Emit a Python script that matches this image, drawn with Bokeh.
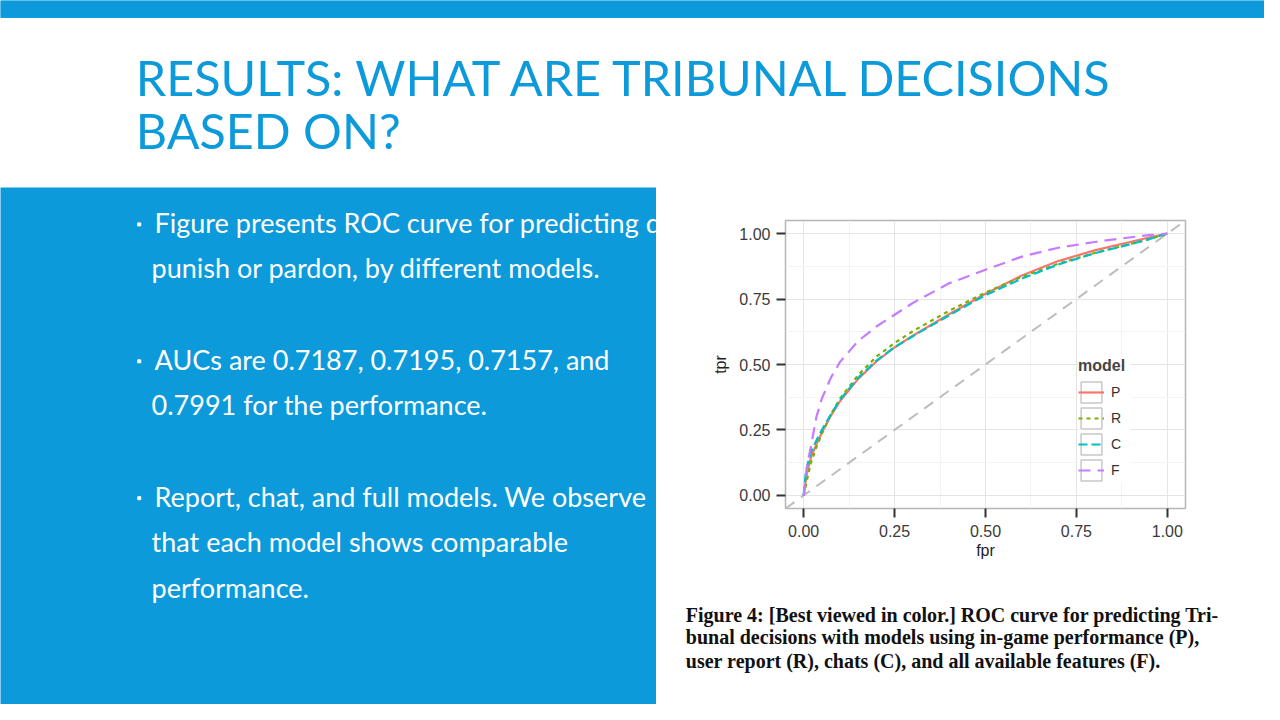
from bokeh.plotting import figure
from bokeh.models import (Range1d, Slope, Legend, LegendItem, FixedTicker,
                          NumeralTickFormatter)
from bokeh.layouts import column, row
from bokeh.embed import file_html
from bokeh.resources import INLINE
from bokeh.core.properties import value

# ---------------- data ----------------
fpr = [0.0, 0.005, 0.01, 0.02, 0.035, 0.05, 0.075, 0.1, 0.15, 0.2, 0.25,
       0.3, 0.4, 0.5, 0.6, 0.7, 0.8, 0.9, 0.95, 1.0]
tpr_P = [0.0, 0.05, 0.09, 0.145, 0.195, 0.24, 0.305, 0.36, 0.445, 0.512, 0.565,
         0.61, 0.692, 0.77, 0.84, 0.895, 0.936, 0.969, 0.985, 1.0]
tpr_R = [0.0, 0.03, 0.065, 0.125, 0.185, 0.235, 0.31, 0.37, 0.46, 0.53, 0.582,
         0.627, 0.705, 0.775, 0.835, 0.885, 0.926, 0.961, 0.979, 1.0]
tpr_C = [0.0, 0.075, 0.115, 0.165, 0.21, 0.25, 0.31, 0.365, 0.45, 0.515, 0.566,
         0.608, 0.688, 0.765, 0.828, 0.882, 0.925, 0.96, 0.979, 1.0]
tpr_F = [0.0, 0.07, 0.12, 0.187, 0.30, 0.37, 0.45, 0.51, 0.59, 0.645, 0.69,
         0.735, 0.81, 0.862, 0.912, 0.946, 0.968, 0.986, 0.994, 1.0]

models = ["P", "R", "C", "F"]
series = [tpr_P, tpr_R, tpr_C, tpr_F]
colors = ["#F8766D", "#7CAE00", "#00BFC4", "#C77CFF"]
dashes = ["solid", "4 4", "9 4", "12 7"]
major_ticks = [0.0, 0.25, 0.5, 0.75, 1.0]
minor_ticks = [0.125, 0.375, 0.625, 0.875]

title_lines = ["RESULTS: WHAT ARE TRIBUNAL DECISIONS", "BASED ON?"]
bullet_lines = [
    ["Figure presents ROC curve for predicting decisions to",
     "punish or pardon, by different models."],
    ["AUCs are 0.7187, 0.7195, 0.7157, and",
     "0.7991 for the performance."],
    ["Report, chat, and full models. We observe",
     "that each model shows comparable",
     "performance."],
]
caption_lines = [
    "Figure 4: [Best viewed in color.] ROC curve for predicting Tri-",
    "bunal decisions with models using in-game performance (P),",
    "user report (R), chats (C), and all available features (F).",
]

# ---------------- styling / layout ----------------
BLUE = "#0C9ADB"
BODY_FONT = "Lato"
W, H = 1264, 704            # drawn size
RW, RH = 1280, 720          # slide coordinates
SX, SY = W / RW, H / RH


def blank(width, height, xr, yr, bg="white"):
    f = figure(width=width, height=height, x_range=Range1d(*xr),
               y_range=Range1d(*yr), x_axis_type=None, y_axis_type=None,
               output_backend="svg", toolbar_location=None, min_border=0,
               title=None)
    f.outline_line_color = None
    f.background_fill_color = bg
    f.border_fill_color = bg
    f.grid.visible = False
    return f


TOP_H = 187
LEFT_W = 656
CHART_H = 400
BOT_H = H - TOP_H
y_split = TOP_H / SY
x_split = LEFT_W / SX
y_cap = (TOP_H + CHART_H) / SY

# ---- title band ----
top = blank(W, TOP_H, (0, RW), (y_split, 0))
top.quad(left=[0], right=[RW], top=[0], bottom=[17.3], color=BLUE)
title_fs = 48.5
top.text(x=[137, 137], y=[96 - 0.37 * title_fs, 150 - 0.37 * title_fs],
         text=title_lines, text_color=BLUE, text_font=value(BODY_FONT),
         text_font_size=f"{title_fs}px", text_baseline="middle")

# ---- blue text panel ----
left = blank(LEFT_W, BOT_H, (0, x_split), (RH, y_split), bg=BLUE)
body_fs = 27
baselines = [[237, 283], [377, 423], [517, 563, 610]]
bx, by, tx, ty = [], [], [], []
for grp, bls in zip(bullet_lines, baselines):
    bx.append(140.5)
    by.append(bls[0] - 8)
    for i, b in enumerate(bls):
        tx.append(156 if i == 0 else 153)
        ty.append(b - 0.37 * body_fs)
left.scatter(bx, by, marker="square", size=3, color="white")
left.text(x=tx, y=ty, text=[l for g in bullet_lines for l in g],
          text_color="white", text_font=value(BODY_FONT),
          text_font_size=f"{body_fs}px", text_baseline="middle")

# ---- ROC chart ----
p = figure(width=W - LEFT_W, height=CHART_H, x_range=Range1d(-0.05, 1.05),
           y_range=Range1d(-0.05, 1.05), output_backend="svg",
           toolbar_location=None, min_border_left=129, min_border_right=79,
           min_border_top=33, min_border_bottom=79)
p.background_fill_color = "white"
p.border_fill_color = "white"
p.outline_line_color = "#b5b5b5"
p.outline_line_width = 1.5

for ax in (p.xaxis[0], p.yaxis[0]):
    ax.ticker = FixedTicker(ticks=major_ticks, minor_ticks=minor_ticks)
    ax.formatter = NumeralTickFormatter(format="0.00")
    ax.axis_line_color = None
    ax.major_tick_line_color = "#333333"
    ax.major_tick_line_width = 2
    ax.major_tick_out = 9
    ax.major_tick_in = 0
    ax.minor_tick_line_color = None
    ax.major_label_text_font = "Liberation Sans"
    ax.major_label_text_font_size = "16px"
    ax.major_label_text_color = "#3a3a3a"
    ax.axis_label_text_font = "Liberation Sans"
    ax.axis_label_text_font_size = "16px"
    ax.axis_label_text_font_style = "normal"
    ax.axis_label_text_color = "#222222"

p.xaxis.axis_label = "fpr"
p.yaxis.axis_label = "tpr"
p.xaxis.major_label_standoff = 7
p.yaxis.major_label_standoff = 6
p.xaxis.axis_label_standoff = 2
p.yaxis.axis_label_standoff = 7

p.grid.grid_line_color = "#e4e4e4"
p.grid.grid_line_width = 1
p.grid.minor_grid_line_color = "#f3f3f3"
p.grid.minor_grid_line_width = 1

diag = Slope(gradient=1, y_intercept=0, line_color="#bdbdbd", line_width=2,
             line_dash="11 8", level="underlay")
p.add_layout(diag)

nan = float("nan")
key_box = p.rect(x=[nan], y=[nan], width=1, height=1, fill_color="white",
                 line_color="#c8c8c8", line_width=1.5)
items = []
for m, s, c, d in zip(models, series, colors, dashes):
    r = p.line(fpr, s, line_color=c, line_width=2.2, line_dash=d)
    items.append(LegendItem(label=m, renderers=[key_box, r]))

legend = Legend(items=items, location=(293, 25), title="model",
                title_text_font="Liberation Sans", title_text_font_style="bold",
                title_text_font_size="16px", title_standoff=4,
                label_text_font="Liberation Sans", label_text_font_size="14px",
                label_text_color="#333333", glyph_width=26, glyph_height=26,
                label_height=26, label_standoff=7, spacing=0, padding=0,
                margin=0, border_line_color=None,
                background_fill_color="white", background_fill_alpha=1.0)
p.add_layout(legend)

# ---- caption ----
cap = blank(W - LEFT_W, BOT_H - CHART_H, (x_split, RW), (RH, y_cap))
cap_fs = 20
cap.text(x=[694, 694, 694],
         y=[b - 0.33 * cap_fs for b in (635, 658, 682)], text=caption_lines,
         text_color="#111111", text_font=value("Liberation Serif"),
         text_font_style="bold", text_font_size=f"{cap_fs}px",
         text_baseline="middle")

layout = column(top, row(left, column(p, row(cap))))

open("out.html", "w").write(file_html(layout, INLINE))
